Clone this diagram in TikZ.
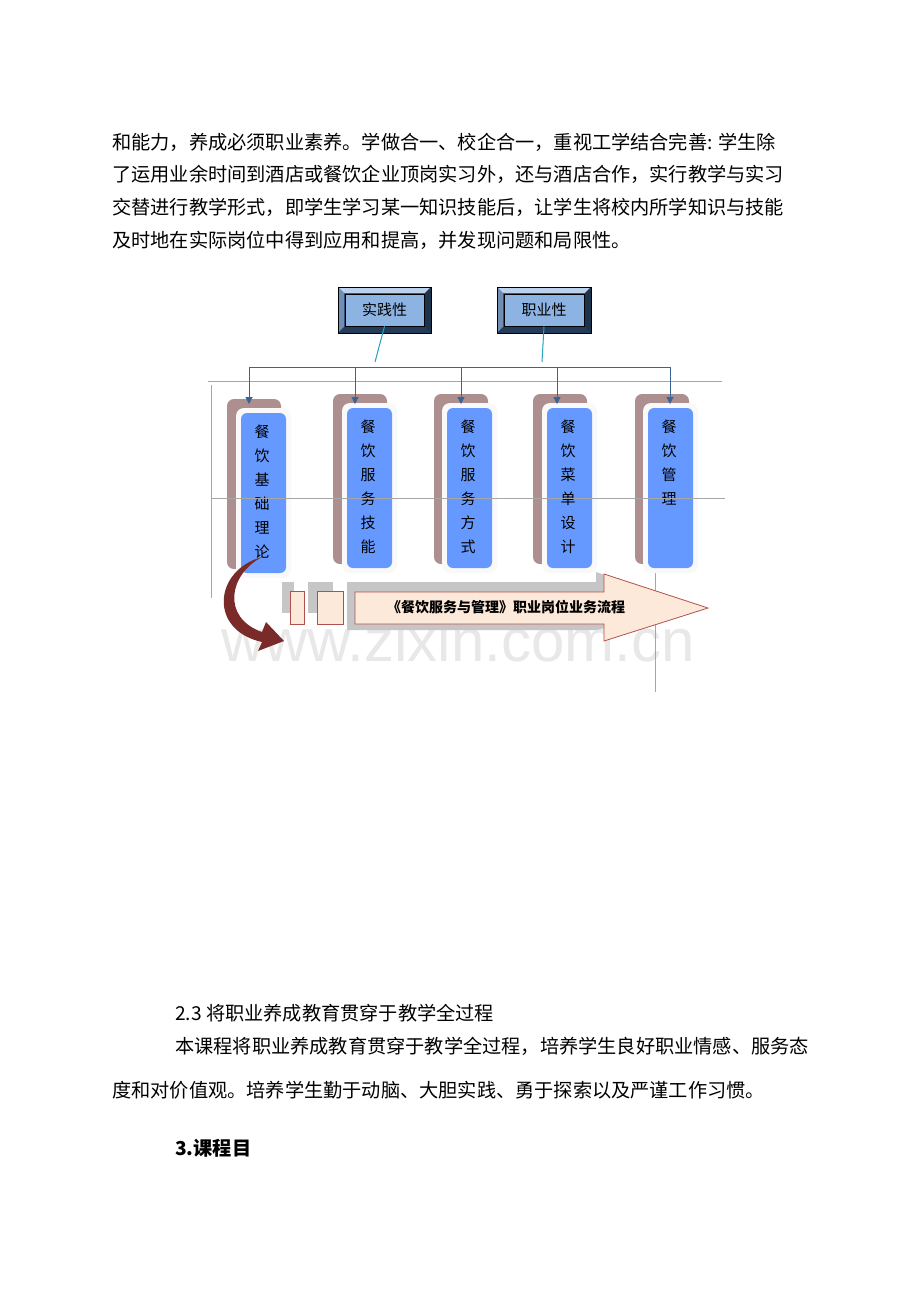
\documentclass[tikz,border=0pt]{standalone}
\usepackage{fontspec}
\setmainfont{Liberation Serif}
\newfontfamily\cjk{Noto Sans CJK SC}
\newfontfamily\wm{Liberation Sans}
\usetikzlibrary{arrows.meta}
\definecolor{boxblue}{HTML}{8DB3E2}
\definecolor{colblue}{HTML}{6699FF}
\definecolor{shadowc}{HTML}{AE8F8F}
\definecolor{linkc}{HTML}{3A6496}
\definecolor{arrpink}{HTML}{FDE9D9}
\definecolor{arredge}{HTML}{B0504F}
\definecolor{curvec}{HTML}{7B2A2A}
\tikzset{
  para/.style={anchor=west,inner sep=0pt,font=\cjk\fontsize{19.2}{20}\selectfont},
  gline/.style={draw=gray!70,line width=0.8pt},
  link/.style={draw=linkc,line width=1pt},
  larrow/.style={link,-{Triangle[length=7pt,width=7pt]}},
  coltext/.style={font=\cjk\fontsize{15}{24}\selectfont,align=center,anchor=north,inner sep=0pt},
}
\begin{document}
\begin{tikzpicture}[x=1pt,y=-1pt]
\useasboundingbox[fill=white] (0,0) rectangle (920,1302);
% paragraphs
\node[para] (p1) at (112,142) {和能力，养成必须职业素养。学做合一、校企合一，重视工学结合完善: 学生除};
\node[para] (p2) at (112,174) {了运用业余时间到酒店或餐饮企业顶岗实习外，还与酒店合作，实行教学与实习};
\node[para] (p3) at (112,207) {交替进行教学形式，即学生学习某一知识技能后，让学生将校内所学知识与技能};
\node[para] (p4) at (112,240) {及时地在实际岗位中得到应用和提高，并发现问题和局限性。};
\node[para] (p5) at (175,1013) {2.3 将职业养成教育贯穿于教学全过程};
\node[para] (p6) at (175,1046) {本课程将职业养成教育贯穿于教学全过程，培养学生良好职业情感、服务态};
\node[para] (p7) at (112,1090) {度和对价值观。培养学生勤于动脑、大胆实践、勇于探索以及严谨工作习惯。};
\node[para,font=\cjk\bfseries\fontsize{19.2}{20}\selectfont] (p8) at (175,1148) {3.课程目};
% watermark
\node[font=\wm\fontsize{60}{60}\selectfont,text=gray!18,inner sep=0pt] (wm) at (458,640) {www.zixin.com.cn};
% gray guide lines
\draw[gline] (208,381) -- (722,381);
\draw[gline] (211,385) -- (211,598);
\draw[gline] (655,572) -- (655,692);
% top bevel boxes
\foreach \n/\xa/\xb/\t in {b1/338/431/实践性, b2/497/591/职业性}{
  \fill[linkc!70!black] (\xa,287) rectangle (\xb,333);
  \fill[boxblue!60!white] (\xa,287) -- (\xb,287) -- (\xb-6,293) -- (\xa+6,293) -- cycle;
  \fill[boxblue!80!black] (\xa,287) -- (\xa+6,293) -- (\xa+6,327) -- (\xa,333) -- cycle;
  \fill[linkc!50!black] (\xb,287) -- (\xb-6,293) -- (\xb-6,327) -- (\xb,333) -- cycle;
  \fill[linkc!60!black] (\xa,333) -- (\xa+6,327) -- (\xb-6,327) -- (\xb,333) -- cycle;
  \node[draw=black,line width=0.6pt,fill=boxblue,minimum width=\xb-\xa-14,minimum height=32,inner sep=0pt,font=\cjk\fontsize{15}{16}\selectfont] (\n) at ({(\xa+\xb)/2},310) {\t};
  \draw[black,line width=0.8pt] (\xa,287) rectangle (\xb,333);
}
% columns
\foreach \n/\sx/\sy/\bx/\by/\t in {c1/227/399/241/413/{餐\\饮\\基\\础\\理\\论}, c2/333/394/347/408/{餐\\饮\\服\\务\\技\\能}, c3/434/394/447/408/{餐\\饮\\服\\务\\方\\式}, c4/533/394/547/408/{餐\\饮\\菜\\单\\设\\计}, c5/635/394/648/408/{餐\\饮\\管\\理}}{
  \fill[shadowc,rounded corners=7pt] (\sx,\sy) rectangle (\sx+54,\sy+170);
  \fill[white!95!gray,rounded corners=8pt] (\bx-5,\by-5) rectangle (\bx+50,\by+165);
  \fill[colblue,rounded corners=6pt] (\bx,\by) rectangle (\bx+45,\by+160);
  \node[coltext] (\n) at (\bx+21,\by+12) {\t};
}
\draw[gline] (211,498) -- (725,498);
% connectors
\coordinate (h1) at (375,362);
\coordinate (h2) at (542,362);
\draw[link,draw=linkc!60!cyan] (b1.south) -- (h1);
\draw[link,draw=linkc!60!cyan] (b2.south) -- (h2);
\coordinate (L) at (249,367); \coordinate (R) at (670,367);
\draw[link] (L) -- (R);
\foreach \x/\n in {249/c1,355/c2,461/c3,557/c4,670/c5}{
  \coordinate (t\n) at (\x,367);
  \draw[larrow] (t\n) -- (\x,404);
}
% process arrow with shadow
\fill[gray!45] (282,582) rectangle (294,613);
\fill[gray!45] (308,582) rectangle (333,613);
\fill[gray!45] (347,582) -- (596,582) -- (596,572) -- (698,607) -- (596,630) -- (347,630) -- cycle;
\fill[arrpink,draw=arredge,line width=0.8pt] (290,591) rectangle (304,624);
\fill[arrpink,draw=arredge,line width=0.8pt] (317,591) rectangle (343,624);
\draw[fill=arrpink,draw=arredge,line width=0.8pt] (355,592) -- (604,592) -- (604,574) -- (708,608) -- (604,641) -- (604,624) -- (355,624) -- cycle;
\node[font=\cjk\bfseries\fontsize{14}{16}\selectfont,inner sep=0pt] (flow) at (506,607) {《餐饮服务与管理》职业岗位业务流程};
% curved red arrow
\fill[curvec] (262,557) .. controls (228,575) and (222,618) .. (262,632) -- (266,622) -- (284,641) -- (258,651) -- (262,642)
   .. controls (208,630) and (214,570) .. (262,557) -- cycle;
\end{tikzpicture}
\end{document}
